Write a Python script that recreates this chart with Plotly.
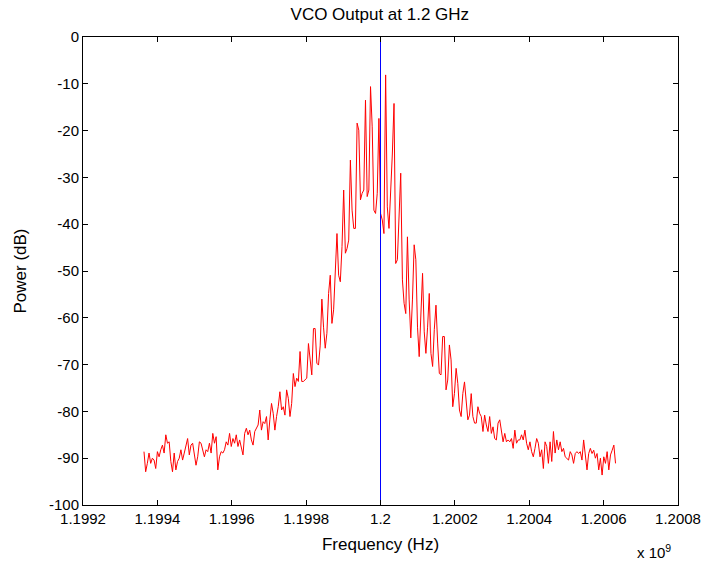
import numpy as np
import plotly.graph_objects as go

# spectrum, left to right, evenly spaced bins
f_start = 1.199364e9
f_end = 1.200632e9
f_center = 1.2e9

power_floor_left = [-88.6, -92.9, -91.1, -88.9, -91.1, -90.0, -90.4, -92.2, -88.6, -89.7,
                    -88.2, -87.2, -88.9, -85.0, -86.8, -86.5, -90.7, -92.9, -88.9, -92.5,
                    -90.7, -90.0, -88.2, -90.4, -88.9, -87.5, -85.8, -89.3, -87.2, -86.8,
                    -88.9, -91.5, -89.7, -86.5, -86.8]
power_skirt_left = [-88.6, -89.7, -88.2, -88.6, -86.8, -88.9, -84.7, -86.8, -85.4, -92.5,
                    -89.7, -88.6, -88.9, -88.2, -86.5, -87.2, -84.7, -87.5, -85.8, -86.8,
                    -85.0, -87.5, -86.1, -87.9, -89.3, -84.7, -83.6, -85.0, -84.0, -86.1,
                    -87.2, -84.3, -83.6, -82.9, -79.7, -84.0, -82.2]
power_rise = [-82.6, -81.1, -86.1, -81.8, -78.3, -80.4, -84.0, -81.1, -79.0, -75.8,
              -79.7, -79.0, -80.8, -75.4, -77.2, -81.1, -78.3, -71.9, -74.7, -72.9,
              -73.6, -67.2, -73.6, -73.6, -73.3, -72.9, -65.5, -68.7, -72.2, -62.3,
              -62.3, -69.7, -70.1, -66.0, -56.0, -62.0, -66.5]
power_peak_left = [-63.3, -54.8, -50.9, -61.2, -58.3, -49.1, -42.0, -50.9, -52.3, -44.8,
                   -32.7, -46.2, -45.2, -43.4, -26.3, -37.0, -40.9, -40.9, -18.4, -19.9,
                   -34.8, -33.4, -32.7, -13.5, -34.1, -32.7, -10.6, -19.2, -37.0, -37.7,
                   -33.4, -17.4, -37.7, -39.1]
power_peak_right = [-42.0, -8.1, -36.3, -40.9, -33.4, -25.0, -14.2, -48.4, -47.6, -40.0,
                    -29.1, -51.9, -56.9, -59.1, -42.7, -56.0, -64.3, -56.0, -44.4, -47.6,
                    -62.0, -68.3, -60.0, -50.5, -63.0, -67.6, -62.0, -54.8, -67.6, -70.4,
                    -62.5, -57.3, -65.4, -71.9, -72.2, -64.0]
power_fall = [-64.0, -75.4, -73.3, -65.8, -69.0, -79.0, -76.2, -70.8, -74.0, -79.7,
              -81.1, -76.2, -73.7, -77.6, -81.8, -80.8, -76.2, -81.1, -82.5, -82.5,
              -79.0, -80.4, -81.1, -84.3, -80.8, -82.9, -84.3, -81.1, -84.7, -83.3,
              -85.8, -86.1, -82.5, -81.8, -84.7, -86.5, -84.7]
power_skirt_right = [-86.5, -86.1, -86.5, -85.8, -87.9, -84.0, -86.8, -86.1, -86.1, -85.0,
                     -86.1, -84.0, -86.8, -88.2, -86.5, -88.6, -89.7, -87.9, -85.8, -86.8,
                     -89.7, -88.2, -92.2, -86.5, -87.5, -91.1, -86.5, -90.7, -84.3, -88.9,
                     -86.1, -88.2, -86.5, -88.6, -87.9, -89.7]
power_floor_right = [-90.0, -90.4, -88.6, -89.3, -91.1, -89.0, -88.6, -89.0, -88.6, -90.4,
                     -86.1, -89.0, -92.5, -89.0, -87.9, -89.0, -88.3, -90.0, -89.0, -92.5,
                     -90.0, -93.6, -89.7, -91.1, -88.6, -92.5, -89.3, -88.3, -87.2, -91.1]

x_tickvals = [1.1992e9, 1.1994e9, 1.1996e9, 1.1998e9, 1.2e9, 1.2002e9, 1.2004e9, 1.2006e9, 1.2008e9]
x_ticktext = ["1.1992", "1.1994", "1.1996", "1.1998", "1.2", "1.2002", "1.2004", "1.2006", "1.2008"]
y_tickvals = [0, -10, -20, -30, -40, -50, -60, -70, -80, -90, -100]
y_ticktext = ["0", "-10", "-20", "-30", "-40", "-50", "-60", "-70", "-80", "-90", "-100"]

power = np.concatenate([power_floor_left, power_skirt_left, power_rise, power_peak_left,
                        power_peak_right, power_fall, power_skirt_right, power_floor_right])
freq = np.linspace(f_start, f_end, len(power))

font = "Liberation Sans, Arial, sans-serif"

fig = go.Figure()
fig.add_trace(go.Scatter(x=freq, y=power, mode="lines", line=dict(color="#ff0000", width=1),
                         showlegend=False))
fig.add_trace(go.Scatter(x=[f_center, f_center], y=[-100, 0], mode="lines",
                         line=dict(color="#0000ff", width=1), showlegend=False))

axis_style = dict(showline=True, linecolor="black", linewidth=1, mirror="ticks",
                  ticks="inside", ticklen=5, tickcolor="black", showgrid=False, zeroline=False,
                  automargin=False, tickfont=dict(family=font, size=15, color="black"))

fig.update_layout(
    width=710, height=571,
    margin=dict(l=83, r=32, t=37, b=66),
    paper_bgcolor="white", plot_bgcolor="white",
    title=dict(text="VCO Output at 1.2 GHz", x=0.535, xanchor="center", y=0.975, yanchor="middle",
               font=dict(family=font, size=17, color="black")),
    xaxis=dict(range=[1.1992e9, 1.2008e9], tickvals=x_tickvals, ticktext=x_ticktext,
               title=dict(text="Frequency (Hz)", standoff=12, font=dict(family=font, size=17, color="black")),
               **axis_style),
    yaxis=dict(range=[-100, 0], tickvals=y_tickvals, ticktext=y_ticktext,
               title=dict(text="Power (dB)", standoff=18, font=dict(family=font, size=17, color="black")),
               **axis_style),
    annotations=[dict(text="x 10<sup>9</sup>", xref="paper", yref="paper", x=0.96, y=-0.075,
                      xanchor="center", yanchor="top", showarrow=False,
                      font=dict(family=font, size=15, color="black"))],
)

# page body margin would shift the figure by 8px
fig.write_html("out.html", config={"displayModeBar": False},
               post_script="document.body.style.margin='0';")
